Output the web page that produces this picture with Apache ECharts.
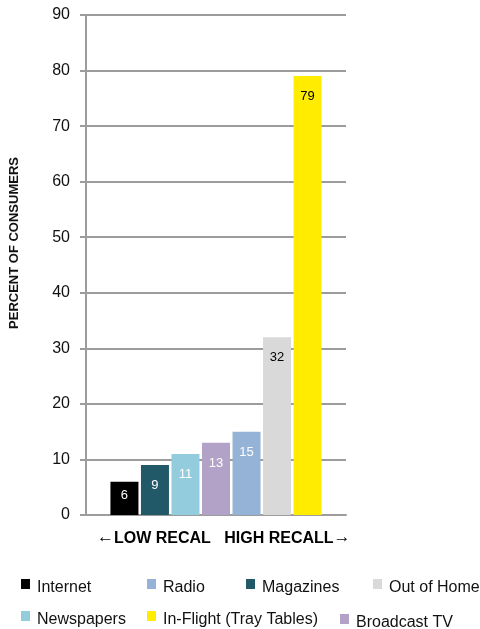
<!DOCTYPE html>
<html>
<head>
<meta charset="utf-8">
<script src="https://cdn.jsdelivr.net/npm/echarts@6/dist/echarts.min.js"></script>
<style>
  html, body { margin: 0; padding: 0; background: #fff; }
  #chart { width: 480px; height: 629px; }
</style>
</head>
<body>
<div id="chart"></div>
<script>
// Media channels, in bar order (lowest to highest recall)
const channels = ['Internet', 'Magazines', 'Newspapers', 'Broadcast TV', 'Radio', 'Out of Home', 'In-Flight (Tray Tables)'];
const recallPct = [6, 9, 11, 13, 15, 32, 79];
const barColors = ['#000000', '#215968', '#93CDDD', '#B3A2C7', '#95B3D7', '#D9D9D9', '#FFEC00'];
const labelColors = ['#ffffff', '#ffffff', '#ffffff', '#ffffff', '#ffffff', '#000000', '#000000'];
const yTicks = [0, 10, 20, 30, 40, 50, 60, 70, 80, 90];

// Legend layout: [channel, left, top]
const legendSlots = [
  ['Internet', 21, 579],
  ['Radio', 147, 579],
  ['Magazines', 246, 579],
  ['Out of Home', 373, 579],
  ['Newspapers', 21, 611],
  ['In-Flight (Tray Tables)', 147, 611],
  ['Broadcast TV', 340, 614]
];

const FONT = '"Liberation Sans", Arial, sans-serif';
const GRID = '#9c9c9c';

const series = channels.map((name, i) => ({
  name: name,
  type: 'bar',
  data: [recallPct[i]],
  barWidth: 28,
  barGap: '9%',
  itemStyle: { color: barColors[i] },
  label: {
    show: true,
    position: 'insideTop',
    // the shortest bar keeps its label closer to the top edge
    distance: recallPct[i] < 8 ? 7 : 14,
    color: labelColors[i],
    fontFamily: FONT,
    fontSize: 13
  }
}));

const legends = legendSlots.map(([name, left, top]) => ({
  data: [name],
  left: left,
  top: top,
  itemWidth: 9,
  itemHeight: 10,
  itemGap: 0,
  padding: 0,
  icon: 'rect',
  selectedMode: false,
  itemStyle: { borderWidth: 0 },
  formatter: '{t|{name}}',
  textStyle: {
    fontFamily: FONT,
    fontSize: 16,
    color: '#111',
    rich: { t: { fontFamily: FONT, fontSize: 16, color: '#111', padding: [8, 0, 0, 2] } }
  }
}));

const chart = echarts.init(document.getElementById('chart'));
chart.setOption({
  animation: false,
  textStyle: { fontFamily: FONT },
  grid: { left: 86, top: 15, width: 260, height: 500, containLabel: false },
  legend: legends,
  xAxis: {
    type: 'category',
    data: [''],
    axisLine: { show: true, lineStyle: { color: GRID, width: 2 } },
    axisTick: { show: false },
    axisLabel: { show: false }
  },
  yAxis: {
    type: 'value',
    min: yTicks[0],
    max: yTicks[yTicks.length - 1],
    interval: 10,
    axisLine: { show: true, lineStyle: { color: GRID, width: 2 } },
    axisTick: { show: true, inside: false, length: 6, lineStyle: { color: GRID, width: 2 } },
    splitLine: { show: true, lineStyle: { color: GRID, width: 2 } },
    axisLabel: { color: '#111', fontSize: 16, margin: 16, fontFamily: FONT }
  },
  graphic: [
    {
      type: 'text',
      x: 14,
      y: 243,
      rotation: Math.PI / 2,
      style: {
        text: 'PERCENT OF CONSUMERS',
        font: 'bold 13px ' + FONT,
        fill: '#111',
        align: 'center',
        verticalAlign: 'middle'
      }
    },
    {
      type: 'text',
      x: 97,
      y: 539,
      style: {
        text: '{a|\u2190}{b|LOW RECAL   HIGH RECALL}{a|\u2192}',
        verticalAlign: 'middle',
        rich: {
          a: { fontFamily: FONT, fontSize: 17, color: '#333', fontWeight: 'normal', padding: [0, 0, 3, 0] },
          b: { fontFamily: FONT, fontSize: 16, fontWeight: 'bold', color: '#111' }
        }
      }
    }
  ],
  series: series
});
</script>
</body>
</html>
